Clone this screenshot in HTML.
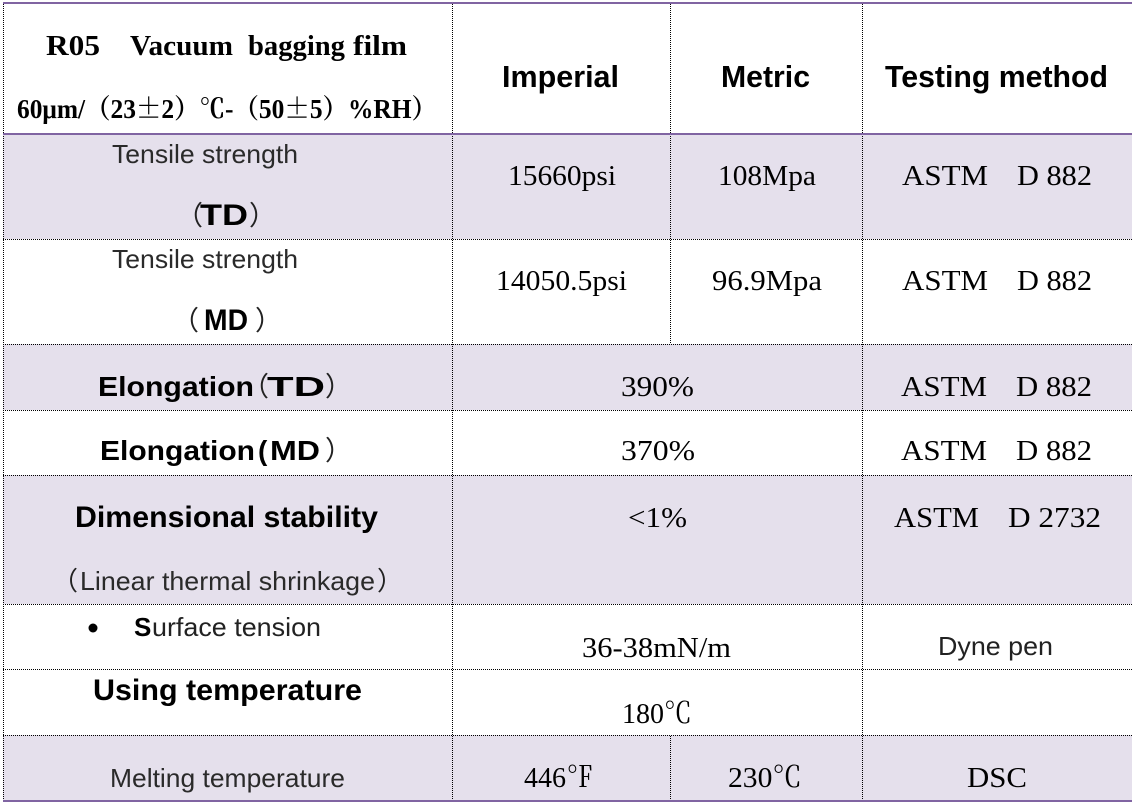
<!DOCTYPE html>
<html>
<head>
<meta charset="utf-8">
<style>
  html, body { margin:0; padding:0; background:#fff; }
  svg { display:block; }
  .ser { font-family: "Liberation Serif", "Noto Serif CJK SC", serif; fill:#000; }
  .serb { font-family: "Liberation Serif", "Noto Serif CJK SC", serif; font-weight:bold; fill:#000; }
  .cjk { font-family: "Noto Serif CJK SC", serif; }
  .san { font-family: "Liberation Sans", "Noto Sans CJK SC", sans-serif; fill:#2a2a2a; }
  .sanb { font-family: "Liberation Sans", "Noto Sans CJK SC", sans-serif; font-weight:bold; fill:#000; }
  .par { font-family: "Liberation Sans", "Noto Sans CJK SC", sans-serif; fill:#222; }
</style>
</head>
<body>
<svg width="1132" height="802" viewBox="0 0 1132 802" xmlns="http://www.w3.org/2000/svg">
  <rect x="0" y="0" width="1132" height="802" fill="#fff"/>
  <!-- shaded rows -->
  <g fill="#E5E0EC">
    <rect x="3" y="134" width="1129" height="105"/>
    <rect x="3" y="344" width="1129" height="66"/>
    <rect x="3" y="475" width="1129" height="129"/>
    <rect x="3" y="735" width="1129" height="65"/>
  </g>

  <!-- dotted lines -->
  <g stroke="#000" stroke-width="1" stroke-dasharray="1 1" fill="none">
    <line x1="3" y1="239.5" x2="1132" y2="239.5"/>
    <line x1="3" y1="344.5" x2="1132" y2="344.5"/>
    <line x1="3" y1="410.5" x2="1132" y2="410.5"/>
    <line x1="3" y1="475.5" x2="1132" y2="475.5"/>
    <line x1="3" y1="604.5" x2="1132" y2="604.5"/>
    <line x1="3" y1="669.5" x2="1132" y2="669.5"/>
    <line x1="3" y1="735.5" x2="1132" y2="735.5"/>
    <line x1="3.5" y1="4" x2="3.5" y2="800"/>
    <line x1="452.5" y1="4" x2="452.5" y2="800"/>
    <line x1="670.5" y1="4" x2="670.5" y2="344"/>
    <line x1="670.5" y1="736" x2="670.5" y2="800"/>
    <line x1="862.5" y1="4" x2="862.5" y2="800"/>
  </g>

  <!-- purple rules -->
  <g fill="#8064A2">
    <rect x="3" y="2" width="1129" height="2"/>
    <rect x="3" y="133" width="1129" height="2"/>
    <rect x="3" y="800" width="1129" height="2"/>
  </g>

  <!-- header -->
  <text class="serb" x="46" y="55" font-size="29" textLength="54" lengthAdjust="spacingAndGlyphs">R05</text>
  <text class="serb" x="130" y="55" font-size="29" textLength="103" lengthAdjust="spacingAndGlyphs">Vacuum</text>
  <text class="serb" x="248" y="55" font-size="29" textLength="97" lengthAdjust="spacingAndGlyphs">bagging</text>
  <text class="serb" x="353" y="55" font-size="29" textLength="54" lengthAdjust="spacingAndGlyphs">film</text>
  <text class="serb" x="17" y="118" font-size="27" textLength="420" lengthAdjust="spacingAndGlyphs">60μm/（23<tspan class="cjk">±</tspan>2）℃-（50<tspan class="cjk">±</tspan>5）%RH）</text>

  <text class="sanb" x="502" y="87" font-size="31" textLength="117" lengthAdjust="spacingAndGlyphs">Imperial</text>
  <text class="sanb" x="721" y="87" font-size="31" textLength="89" lengthAdjust="spacingAndGlyphs">Metric</text>
  <text class="sanb" x="885" y="87" font-size="31" textLength="223" lengthAdjust="spacingAndGlyphs">Testing method</text>

  <!-- row 1 -->
  <text class="san" x="112" y="163" font-size="26" textLength="186" lengthAdjust="spacingAndGlyphs">Tensile strength</text>
  <text class="par" x="176" y="225" font-size="27">（</text>
  <text class="sanb" x="200" y="225" font-size="30" textLength="48" lengthAdjust="spacingAndGlyphs">TD</text>
  <text class="par" x="249" y="225" font-size="27">）</text>
  <text class="ser" x="508" y="185" font-size="29" textLength="108" lengthAdjust="spacingAndGlyphs">15660psi</text>
  <text class="ser" x="718" y="185" font-size="29" textLength="98" lengthAdjust="spacingAndGlyphs">108Mpa</text>
  <text class="ser" x="902" y="185" font-size="29" textLength="86" lengthAdjust="spacingAndGlyphs">ASTM</text>
  <text class="ser" x="1017" y="185" font-size="29" textLength="75" lengthAdjust="spacingAndGlyphs">D 882</text>

  <!-- row 2 -->
  <text class="san" x="112" y="268" font-size="26" textLength="186" lengthAdjust="spacingAndGlyphs">Tensile strength</text>
  <text class="par" x="172" y="330" font-size="27">（</text>
  <text class="sanb" x="204" y="330" font-size="30" textLength="44" lengthAdjust="spacingAndGlyphs">MD</text>
  <text class="par" x="255" y="330" font-size="27">）</text>
  <text class="ser" x="496" y="290" font-size="29" textLength="131" lengthAdjust="spacingAndGlyphs">14050.5psi</text>
  <text class="ser" x="712" y="290" font-size="29" textLength="110" lengthAdjust="spacingAndGlyphs">96.9Mpa</text>
  <text class="ser" x="902" y="290" font-size="29" textLength="86" lengthAdjust="spacingAndGlyphs">ASTM</text>
  <text class="ser" x="1017" y="290" font-size="29" textLength="75" lengthAdjust="spacingAndGlyphs">D 882</text>

  <!-- row 3 -->
  <text class="sanb" x="98" y="396" font-size="28" textLength="156" lengthAdjust="spacingAndGlyphs">Elongation</text>
  <text class="par" x="242" y="396" font-size="27">（</text>
  <text class="sanb" x="267" y="396" font-size="28" textLength="58" lengthAdjust="spacingAndGlyphs">TD</text>
  <text class="par" x="325" y="396" font-size="27">）</text>
  <text class="ser" x="621" y="396" font-size="29" textLength="73" lengthAdjust="spacingAndGlyphs">390%</text>
  <text class="ser" x="901" y="396" font-size="29" textLength="86" lengthAdjust="spacingAndGlyphs">ASTM</text>
  <text class="ser" x="1016" y="396" font-size="29" textLength="76" lengthAdjust="spacingAndGlyphs">D 882</text>

  <!-- row 4 -->
  <text class="sanb" x="100" y="460" font-size="28" textLength="155" lengthAdjust="spacingAndGlyphs">Elongation</text>
  <text class="sanb" x="258" y="460" font-size="28">(</text>
  <text class="sanb" x="270" y="460" font-size="28" textLength="50" lengthAdjust="spacingAndGlyphs">MD</text>
  <text class="par" x="325" y="460" font-size="27">）</text>
  <text class="ser" x="621" y="460" font-size="29" textLength="74" lengthAdjust="spacingAndGlyphs">370%</text>
  <text class="ser" x="901" y="460" font-size="29" textLength="86" lengthAdjust="spacingAndGlyphs">ASTM</text>
  <text class="ser" x="1016" y="460" font-size="29" textLength="76" lengthAdjust="spacingAndGlyphs">D 882</text>

  <!-- row 5 -->
  <text class="sanb" x="75" y="527" font-size="30" textLength="303" lengthAdjust="spacingAndGlyphs">Dimensional stability</text>
  <text class="par" x="52" y="590" font-size="26">（</text>
  <text class="san" x="80" y="590" font-size="26" textLength="295" lengthAdjust="spacingAndGlyphs">Linear thermal shrinkage</text>
  <text class="par" x="377" y="590" font-size="26">）</text>
  <text class="ser" x="628" y="527" font-size="29" textLength="59" lengthAdjust="spacingAndGlyphs">&lt;1%</text>
  <text class="ser" x="894" y="527" font-size="29" textLength="85" lengthAdjust="spacingAndGlyphs">ASTM</text>
  <text class="ser" x="1008" y="527" font-size="29" textLength="93" lengthAdjust="spacingAndGlyphs">D 2732</text>

  <!-- row 6 -->
  <circle cx="93" cy="628" r="4.5" fill="#000"/>
  <text class="sanb" x="134" y="636" font-size="26">S</text>
  <text class="san" x="152" y="636" font-size="26" textLength="169" lengthAdjust="spacingAndGlyphs" style="fill:#222">urface tension</text>
  <text class="ser" x="582" y="657" font-size="29" textLength="149" lengthAdjust="spacingAndGlyphs">36-38mN/m</text>
  <text class="san" x="938" y="655" font-size="26" textLength="115" lengthAdjust="spacingAndGlyphs" style="fill:#222">Dyne pen</text>

  <!-- row 7 -->
  <text class="sanb" x="93" y="700" font-size="30" textLength="269" lengthAdjust="spacingAndGlyphs">Using temperature</text>
  <text class="ser" x="622" y="723" font-size="29" textLength="70" lengthAdjust="spacingAndGlyphs">180℃</text>

  <!-- row 8 -->
  <text class="san" x="110" y="787" font-size="26" textLength="235" lengthAdjust="spacingAndGlyphs">Melting temperature</text>
  <text class="ser" x="524" y="787" font-size="29" textLength="70" lengthAdjust="spacingAndGlyphs">446℉</text>
  <text class="ser" x="728" y="787" font-size="29" textLength="74" lengthAdjust="spacingAndGlyphs">230℃</text>
  <text class="ser" x="967" y="787" font-size="29" textLength="60" lengthAdjust="spacingAndGlyphs">DSC</text>
</svg>
</body>
</html>
